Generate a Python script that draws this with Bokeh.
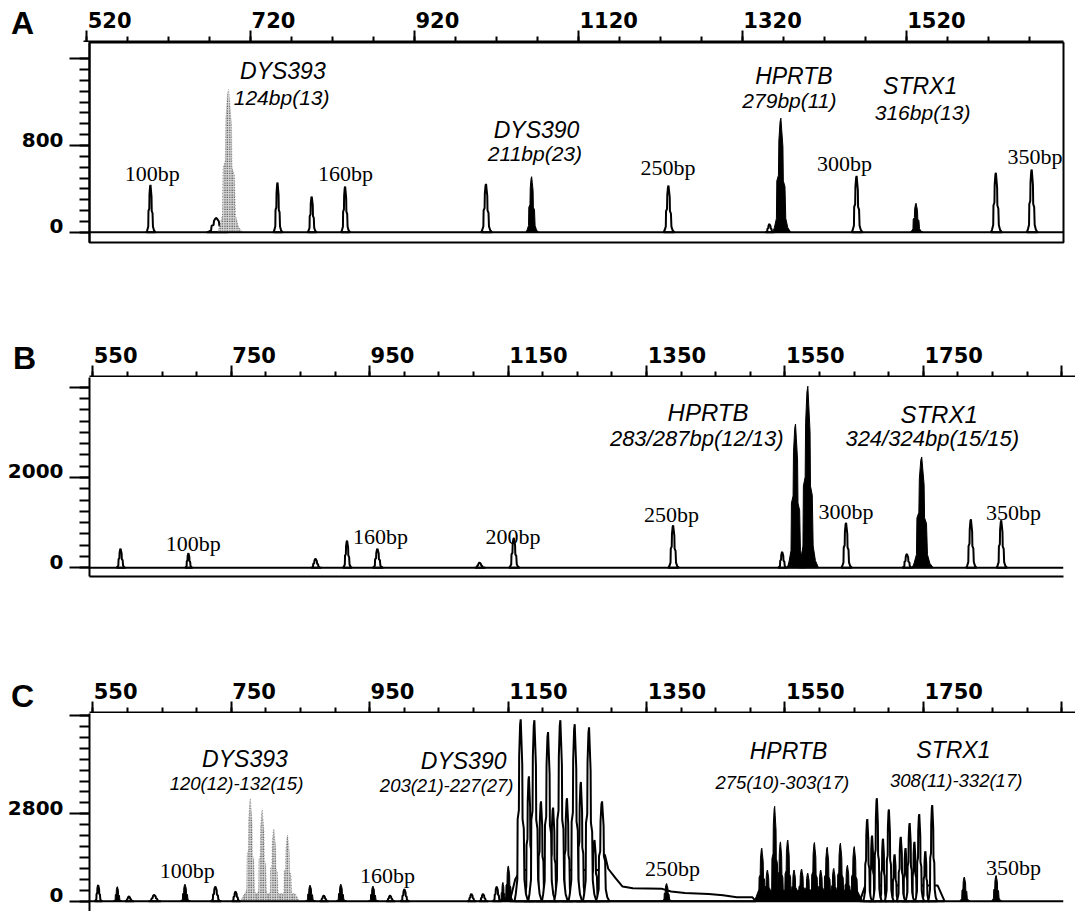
from bokeh.plotting import figure
from bokeh.layouts import column, row
from bokeh.models import Range1d, LinearAxis, FixedTicker, ColumnDataSource, Div
from bokeh.core.properties import value
from bokeh.embed import file_html
from bokeh.resources import INLINE

# ======================= DATA =======================
# ---- Panel A (single sample) ----
A_x_major = [520, 720, 920, 1120, 1320, 1520]
A_x_minor_step = 50
A_y_major = [0, 800, 1600]
A_y_labeled = [0, 800]
A_y_minor_step = 100

A_peak_x = [591, 672, 687, 747, 789, 830, 1003, 1059, 1227, 1351, 1365, 1458, 1531, 1629, 1673]
A_peak_h = [436, 131, 1321, 458, 329, 421, 445, 512, 430, 74, 1052, 519, 267, 548, 578]
A_peak_w = [5, 12, 14, 5, 5, 5, 6, 7, 6, 5, 10, 6, 7, 6, 6]
A_peak_dye = ["open", "open", "dots", "open", "open", "open", "open", "solid",
              "open", "open", "solid", "open", "solid", "open", "open"]

A_size_text = ["100bp", "160bp", "250bp", "300bp", "350bp"]
A_size_x = [593, 830.5, 1226.5, 1443, 1677]
A_size_y = [540, 540, 593, 637, 696]
A_marker_text = ["DYS393", "DYS390", "HPRTB", "STRX1"]
A_marker_x = [753.5, 1065, 1381, 1536]
A_marker_y = [1488, 942, 1437, 1348]
A_allele_text = ["124bp(13)", "211bp(23)", "279bp(11)", "316bp(13)"]
A_allele_x = [752, 1063, 1375.5, 1539]
A_allele_y = [1244, 726, 1215, 1102]

# ---- Panel B (single sample) ----
B_x_major = [550, 750, 950, 1150, 1350, 1550, 1750, 1950]
B_x_labeled = [550, 750, 950, 1150, 1350, 1550, 1750]
B_x_minor_step = 50
B_y_major = [0, 2000, 4000]
B_y_labeled = [0, 2000]
B_y_minor_step = 250

B_peak_x = [590.7, 690, 876, 922, 966.5, 1116, 1166, 1399, 1558.6, 1578, 1596,
            1652, 1741, 1762.6, 1834.6, 1879]
B_peak_h = [420, 320, 200, 600, 420, 115, 660, 940, 350, 3184, 4022,
            998, 306, 2455, 1071, 1049]
B_peak_w = [6, 5, 7, 6, 7, 7, 7, 7, 6, 12, 13, 7, 7, 14, 7, 7]
B_peak_dye = ["open", "open", "open", "open", "open", "open", "open", "open", "open",
              "solid", "solid", "open", "open", "solid", "open", "open"]

B_size_text = ["100bp", "160bp", "200bp", "250bp", "300bp", "350bp"]
B_size_x = [697, 971, 1164.6, 1396.6, 1652, 1897]
B_size_y = [540, 700, 700, 1180, 1253, 1217]
B_marker_text = ["HPRTB", "STRX1"]
B_marker_x = [1450, 1788]
B_marker_y = [3439, 3403]
B_allele_text = ["283/287bp(12/13)", "324/324bp(15/15)"]
B_allele_x = [1433.5, 1778]
B_allele_y = [2856, 2856]

# ---- Panel C (allelic ladders) ----
C_x_major = [550, 750, 950, 1150, 1350, 1550, 1750, 1950]
C_x_labeled = [550, 750, 950, 1150, 1350, 1550, 1750]
C_x_minor_step = 50
C_y_major = [0, 2800, 5950]
C_y_labeled = [0, 2800]
C_y_minor_step = 350

C_peak_x = [558, 586, 603, 640, 685, 729.5, 759,
            780.6, 798, 815, 835,
            868, 888, 913, 960, 985, 1006, 1104, 1121, 1141, 1150, 1158,
            1176, 1188, 1196, 1205.7, 1216, 1223.4, 1234, 1243.7, 1255, 1264, 1276, 1284, 1295,
            1389.5,
            1528.7, 1537, 1547.5, 1556, 1566.7, 1576, 1587, 1596, 1605.7, 1615, 1624.4,
            1634, 1643.7, 1654, 1664,
            1683, 1690, 1697, 1706, 1714.6, 1723, 1732, 1739, 1745, 1752, 1759, 1768, 1778,
            1825, 1871.5]
C_peak_h = [515, 465, 150, 200, 545, 465, 305,
            3300, 2940, 2320, 2110,
            515, 180, 545, 485, 180, 380, 230, 230, 465, 600, 1130,
            5830, 4000, 5800, 3200, 5420, 3000, 5800, 3300, 5670, 3820, 5570, 1960, 3200,
            565,
            1700, 1000, 3040, 1900, 1960, 1000, 1030, 900, 1880, 1000, 1730,
            1050, 1860, 1150, 1750,
            2630, 2100, 3300, 2000, 2940, 1500, 2060, 1700, 2500, 1900, 2790, 1600, 3080,
            775, 825]
C_peak_w = [5, 6, 6, 8, 7, 7, 6,
            10, 10, 10, 10,
            7, 6, 7, 7, 6, 6, 6, 6, 6, 5, 7,
            9, 7, 9, 7, 9, 7, 9, 7, 9, 7, 9, 7, 9,
            7,
            8, 7, 8, 7, 8, 7, 8, 7, 8, 7, 8, 7, 8, 7, 8,
            6, 5, 6, 5, 6, 5, 6, 5, 6, 5, 6, 5, 6,
            7, 7]
C_peak_dye = (["open", "solid", "open", "open", "solid", "open", "open"]
              + ["dots"] * 4
              + ["solid", "open", "solid", "solid", "open", "open", "open", "open", "open", "solid", "solid"]
              + ["open"] * 13
              + ["solid"]
              + ["solid"] * 15
              + ["open"] * 13
              + ["solid", "solid"])

# raised trace levels under the ladder clusters
C_floor_dye = ["open", "solid", "open", "dots"]
C_floor_x = [[1160, 1168, 1176, 1290, 1299, 1304, 1315, 1325, 1340, 1383, 1396, 1416, 1451, 1472, 1492, 1515, 1520],
             [1518, 1524, 1668, 1676],
             [1672, 1680, 1786, 1796],
             [766, 772, 846, 852]]
C_floor_y = [[0, 700, 1000, 1000, 1500, 1040, 728, 468, 416, 395, 312, 260, 229, 187, 125, 125, 0],
             [0, 350, 350, 0],
             [0, 500, 500, 0],
             [0, 250, 250, 0]]

C_size_text = ["100bp", "160bp", "250bp", "350bp"]
C_size_x = [688.3, 981, 1398, 1897]
C_size_y = [980, 826, 1053, 1084]
C_marker_text = ["DYS393", "DYS390", "HPRTB", "STRX1"]
C_marker_x = [772.6, 1092.5, 1567.7, 1809]
C_marker_y = [4541, 4489, 4799, 4850]
C_allele_text = ["120(12)-132(15)", "203(21)-227(27)", "275(10)-303(17)", "308(11)-332(17)"]
C_allele_x = [760.2, 1067.7, 1558.6, 1813]
C_allele_y = [3767, 3715, 3818, 3870]

PANEL_LETTERS = ["A", "B", "C"]

# ======================= STYLE =======================
PEAK_RX = [-1.0, -0.8, -0.55, -0.5, -0.3, -0.25, -0.1, 0.0, 0.1, 0.25, 0.3, 0.5, 0.6, 0.85, 1.2]
PEAK_RY = [0.0, 0.04, 0.12, 0.45, 0.5, 0.8, 0.97, 1.0, 0.9, 0.75, 0.45, 0.4, 0.12, 0.04, 0.0]

STYLE = {
    "open": dict(fill_color="white", line_color="black", line_width=2.0),
    "solid": dict(fill_color="black", line_color="black", line_width=1.0),
    "dots": dict(fill_color="#d8d8d8", line_color="#777777", line_width=0.6,
                 line_dash="1 2", hatch_pattern="dot", hatch_color="#000000",
                 hatch_scale=2.4, hatch_weight=1.2),
}

TICK_FONT = "DejaVu Sans"
SANS = "Liberation Sans"
SERIF = "Liberation Serif"
W = 1075
TOP = 42   # height of the strip holding the top axis


def draw_peaks(p, xs, hs, ws, dyes, floors=()):
    for dye in ("open", "dots", "solid"):
        for fx, fy, fd in floors:
            if fd == dye:
                p.patch(fx, fy, **STYLE[dye])
        idx = [i for i, d in enumerate(dyes) if d == dye]
        idx.sort(key=lambda i: hs[i])
        if not idx:
            continue
        pxs = [[xs[i] + ws[i] * r for r in PEAK_RX] for i in idx]
        pys = [[hs[i] * r for r in PEAK_RY] for i in idx]
        p.patches(pxs, pys, **STYLE[dye])


def add_texts(p, texts, xs, ys, font, style, size):
    src = ColumnDataSource(dict(x=xs, y=ys, t=texts))
    p.text(x="x", y="y", text="t", source=src, text_font=value(font),
           text_font_style=style, text_font_size=size, text_align="center",
           text_baseline="middle", text_color="black")


def letter_box(letter, width, left, top):
    html = ('<div style="position:relative;margin:0;padding:0;left:%dpx;top:%dpx;'
            "font-family:'Liberation Sans',Arial,sans-serif;font-weight:bold;"
            'font-size:32px;line-height:31px;color:#000;">%s</div>' % (left, top, letter))
    return Div(text=html, width=width, height=TOP, margin=0,
               styles={"margin": "0", "padding": "0", "overflow": "visible"})


def top_axis_fig(width, xr, mb_right, x_major, x_labeled, x_step, s3, s4):
    f = figure(width=width, height=TOP, x_range=xr, y_range=Range1d(0, 1),
               x_axis_location=None, y_axis_location=None, toolbar_location=None,
               output_backend="svg", min_border_top=TOP - 1, min_border_bottom=0,
               min_border_left=0, min_border_right=mb_right, outline_line_color=None,
               background_fill_color="white", border_fill_color="white")
    f.grid.visible = False
    x_minor = list(range(x_major[0], int(xr.end) + 1, x_step))
    xt = LinearAxis(ticker=FixedTicker(ticks=x_major, minor_ticks=x_minor),
                    major_tick_out=11, major_tick_in=0, minor_tick_out=5, minor_tick_in=0,
                    major_tick_line_width=2, minor_tick_line_width=2, axis_line_width=2,
                    major_label_standoff=0, major_label_text_font_size="0px",
                    major_label_overrides={t: "" for t in x_major})
    f.add_layout(xt, "above")
    lab_ticks = [t + (s3 if len(str(t)) == 3 else s4) for t in x_labeled]
    xl = LinearAxis(ticker=FixedTicker(ticks=lab_ticks, minor_ticks=[]),
                    major_tick_out=0, major_tick_in=0, minor_tick_out=0, minor_tick_in=0,
                    axis_line_color=None, major_tick_line_color=None, minor_tick_line_color=None,
                    major_label_standoff=3,
                    major_label_overrides={lt: str(t) for lt, t in zip(lab_ticks, x_labeled)},
                    major_label_text_font=TICK_FONT, major_label_text_font_style="bold",
                    major_label_text_font_size="21px", major_label_text_color="black")
    f.add_layout(xl, "above")
    return f


def main_fig(height, mb_left, mb_right, mb_bottom, xr, yr,
             y_major, y_labeled, y_step, y_shift, outline, bottom_line):
    p = figure(width=W, height=height, x_range=xr, y_range=Range1d(*yr),
               x_axis_location=None, y_axis_location=None, toolbar_location=None,
               output_backend="svg", min_border_top=0, min_border_left=mb_left,
               min_border_right=mb_right, min_border_bottom=mb_bottom,
               background_fill_color="white", border_fill_color="white")
    p.grid.visible = False
    if outline:
        p.outline_line_color = "black"
        p.outline_line_width = 2
    else:
        p.outline_line_color = None
    y_minor = list(range(0, y_major[-1] + 1, y_step))
    yt = LinearAxis(ticker=FixedTicker(ticks=y_major, minor_ticks=y_minor),
                    major_tick_out=20, major_tick_in=0, minor_tick_out=10, minor_tick_in=0,
                    major_tick_line_width=2, minor_tick_line_width=2, axis_line_width=2,
                    major_label_standoff=0, major_label_text_font_size="0px",
                    major_label_overrides={t: "" for t in y_major})
    p.add_layout(yt, "left")
    ylab_ticks = [t + y_shift for t in y_labeled]
    yl = LinearAxis(ticker=FixedTicker(ticks=ylab_ticks, minor_ticks=[]),
                    major_tick_out=0, major_tick_in=0, minor_tick_out=0, minor_tick_in=0,
                    axis_line_color=None, major_tick_line_color=None, minor_tick_line_color=None,
                    major_label_standoff=6,
                    major_label_overrides={lt: str(t) for lt, t in zip(ylab_ticks, y_labeled)},
                    major_label_text_font=TICK_FONT, major_label_text_font_style="bold",
                    major_label_text_font_size="20px", major_label_text_color="black")
    p.add_layout(yl, "left")
    if bottom_line:
        bl = LinearAxis(ticker=FixedTicker(ticks=[], minor_ticks=[]), axis_line_width=2,
                        major_tick_out=0, minor_tick_out=0, major_tick_in=0, minor_tick_in=0,
                        major_label_standoff=0, major_label_text_font_size="0px")
        p.add_layout(bl, "below")
    return p


# ---------------- Panel A ----------------
xrA = Range1d(516.1, 1712)
lA = letter_box(PANEL_LETTERS[0], 83, 11, 8)
tA = top_axis_fig(W - 83, xrA, 12, A_x_major, A_x_major, A_x_minor_step, 28, 37)
pA = main_fig(293, 83, 12, 93, xrA, (-95, 1750),
              A_y_major, A_y_labeled, A_y_minor_step, 55, True, False)
draw_peaks(pA, A_peak_x, A_peak_h, A_peak_w, A_peak_dye)
pA.line([xrA.start, xrA.end], [0, 0], line_color="black", line_width=2)
add_texts(pA, A_size_text, A_size_x, A_size_y, SERIF, "normal", "22px")
add_texts(pA, A_marker_text, A_marker_x, A_marker_y, SANS, "italic", "23px")
add_texts(pA, A_allele_text, A_allele_x, A_allele_y, SANS, "italic", "21px")

# ---------------- Panel B ----------------
xrB = Range1d(545.2, 1970)
lB = letter_box(PANEL_LETTERS[1], 89, 13, 8)
tB = top_axis_fig(W - 89, xrB, 0, B_x_major, B_x_labeled, B_x_minor_step, 33, 44)
pB = main_fig(294, 89, 0, 95, xrB, (-193, 4215),
              B_y_major, B_y_labeled, B_y_minor_step, 133, False, True)
draw_peaks(pB, B_peak_x, B_peak_h, B_peak_w, B_peak_dye)
pB.line([xrB.start, xrB.end], [0, 0], line_color="black", line_width=2)
add_texts(pB, B_size_text, B_size_x, B_size_y, SERIF, "normal", "22px")
add_texts(pB, B_marker_text, B_marker_x, B_marker_y, SANS, "italic", "24px")
add_texts(pB, B_allele_text, B_allele_x, B_allele_y, SANS, "italic", "22px")

# ---------------- Panel C ----------------
xrC = Range1d(545.2, 1970)
lC = letter_box(PANEL_LETTERS[2], 89, 11, 10)
tC = top_axis_fig(W - 89, xrC, 0, C_x_major, C_x_labeled, C_x_minor_step, 33, 44)
pC = main_fig(198, 89, 0, 0, xrC, (-330, 6014),
              C_y_major, C_y_labeled, C_y_minor_step, 192, False, False)
draw_peaks(pC, C_peak_x, C_peak_h, C_peak_w, C_peak_dye,
           floors=list(zip(C_floor_x, C_floor_y, C_floor_dye)))
pC.line([xrC.start, xrC.end], [0, 0], line_color="black", line_width=2)
add_texts(pC, C_size_text, C_size_x, C_size_y, SERIF, "normal", "22px")
add_texts(pC, C_marker_text, C_marker_x, C_marker_y, SANS, "italic", "23px")
add_texts(pC, C_allele_text, C_allele_x, C_allele_y, SANS, "italic", "18.5px")

layout = column(row(lA, tA, spacing=0), pA,
                row(lB, tB, spacing=0), pB,
                row(lC, tC, spacing=0), pC, spacing=0)
open("out.html", "w").write(file_html(layout, INLINE))
